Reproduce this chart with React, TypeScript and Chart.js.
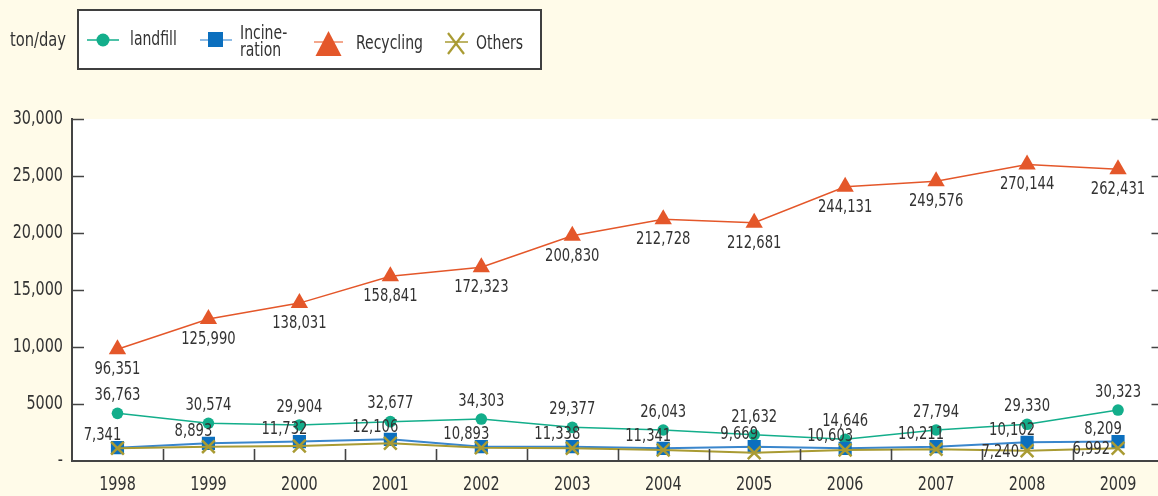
import React, { useEffect, useRef } from 'react';
import { Chart, registerables } from 'chart.js';

Chart.register(...registerables);

// ---- data ----
const years = ['1998', '1999', '2000', '2001', '2002', '2003', '2004', '2005', '2006', '2007', '2008', '2009'];

// plotted heights (on the 0–30,000 axis)
const landfill = [4180, 3310, 3160, 3450, 3680, 2950, 2720, 2300, 1900, 2720, 3220, 4470];
const incineration = [1170, 1550, 1700, 1900, 1260, 1260, 1110, 1260, 1110, 1260, 1640, 1700];
const recycling = [9800, 12450, 13850, 16200, 17000, 19750, 21200, 20900, 24050, 24550, 26000, 25600];
const others = [1110, 1260, 1320, 1550, 1170, 1110, 960, 730, 960, 1020, 900, 1110];

// printed value labels
const landfillLabels = ['36,763', '30,574', '29,904', '32,677', '34,303', '29,377', '26,043', '21,632', '14,646', '27,794', '29,330', '30,323'];
const incinerationLabels = ['7,341', '8,893', '11,732', '12,106', '10,893', '11,338', '11,341', '9,669', '10,603', '10,211', '10,102', '8,209'];
const recyclingLabels = ['96,351', '125,990', '138,031', '158,841', '172,323', '200,830', '212,728', '212,681', '244,131', '249,576', '270,144', '262,431'];
const othersLabels = ['', '', '', '', '', '', '', '', '', '', '7,240', '6,992'];

const yTickValues = [0, 5000, 10000, 15000, 20000, 25000, 30000];
const yTickLabels = ['-', '5000', '10,000', '15,000', '20,000', '25,000', '30,000'];

const unitLabel = 'ton/day';
const legendNames = ['landfill', 'Incine-', 'ration', 'Recycling', 'Others'];

// ---- styles ----
const FONT = "'DejaVu Sans Condensed', 'Liberation Sans Narrow', sans-serif";
const BG = '#FFFBE9';
const TEXT = '#333333';
const AXIS = '#444444';
const C_LAND = '#13AE8B';
const C_INC = '#0B6FBE';
const C_INC_LINE = '#3A86CC';
const C_REC = '#E4572A';
const C_OTH = '#A99B33';

function condensedText(ctx: any, s: string, x: number, y: number, size: number, align: string, squeeze: number) {
  ctx.save();
  ctx.font = `${size}px ${FONT}`;
  ctx.fillStyle = TEXT;
  ctx.textBaseline = 'middle';
  ctx.textAlign = align;
  ctx.translate(x, y);
  ctx.scale(squeeze, 1);
  ctx.fillText(s, 0, 0);
  ctx.restore();
}

const bgPlugin = {
  id: 'plotBg',
  beforeDraw(chart: any) {
    const { ctx, chartArea } = chart;
    ctx.save();
    ctx.fillStyle = '#ffffff';
    ctx.fillRect(chartArea.left, chartArea.top, chartArea.right - chartArea.left, chartArea.bottom - chartArea.top);
    ctx.restore();
  },
};

// inward tick marks + condensed axis labels, positioned by the chart's own scales
const axisDecorPlugin = {
  id: 'axisDecor',
  afterDraw(chart: any) {
    const { ctx, chartArea, scales } = chart;
    const len = 12;
    ctx.save();
    ctx.strokeStyle = AXIS;
    ctx.lineWidth = 1.6;
    const ys = scales.y;
    ys.ticks.forEach((t: any) => {
      if (t.value === 0) return;
      const y = Math.round(ys.getPixelForValue(t.value)) + 0.5;
      ctx.beginPath();
      ctx.moveTo(chartArea.left, y);
      ctx.lineTo(chartArea.left + len, y);
      ctx.moveTo(chartArea.right - len, y);
      ctx.lineTo(chartArea.right, y);
      ctx.stroke();
    });
    const xs = scales.x;
    for (let i = 0; i < xs.ticks.length - 1; i++) {
      const x = Math.round((xs.getPixelForTick(i) + xs.getPixelForTick(i + 1)) / 2) + 0.5;
      ctx.beginPath();
      ctx.moveTo(x, chartArea.bottom);
      ctx.lineTo(x, chartArea.bottom - len);
      ctx.stroke();
    }
    ctx.restore();

    ys.ticks.forEach((t: any) => {
      const i = yTickValues.indexOf(t.value);
      if (i < 0) return;
      condensedText(ctx, yTickLabels[i], chartArea.left - 9, ys.getPixelForValue(t.value), 20, 'right', 0.8);
    });
    xs.ticks.forEach((_t: any, i: number) => {
      condensedText(ctx, String(years[i]), xs.getPixelForTick(i), chartArea.bottom + 24, 20, 'center', 0.8);
    });
  },
};

const valueLabelPlugin = {
  id: 'valueLabels',
  afterDatasetsDraw(chart: any) {
    const { ctx } = chart;
    chart.data.datasets.forEach((ds: any, di: number) => {
      const meta = chart.getDatasetMeta(di);
      const lab = ds.valueLabels || [];
      meta.data.forEach((pt: any, i: number) => {
        const s = lab[i];
        if (!s) return;
        condensedText(ctx, s, pt.x + (ds.labelDx || 0), pt.y + (ds.labelDy || 0), 18.5, ds.labelAlign || 'center', 0.79);
      });
    });
  },
};

function LegendIcons() {
  return (
    <svg width={600} height={80} style={{ position: 'absolute', left: 0, top: 0 }}>
      {/* landfill */}
      <line x1={87} y1={40} x2={119} y2={40} stroke={C_LAND} strokeWidth={1.5} />
      <circle cx={103} cy={40} r={6.5} fill={C_LAND} />
      {/* incineration */}
      <line x1={200} y1={40} x2={232} y2={40} stroke="#6AA6DC" strokeWidth={1.5} />
      <rect x={208} y={32} width={15} height={15} fill={C_INC} />
      {/* recycling */}
      <line x1={314} y1={42} x2={343} y2={42} stroke="#F08A66" strokeWidth={1.5} />
      <polygon points="328.5,31 341.5,56 315.5,56" fill={C_REC} />
      {/* others */}
      <line x1={445} y1={42} x2={468} y2={42} stroke={C_OTH} strokeWidth={1.5} />
      <line x1={448} y1={33} x2={464} y2={54} stroke={C_OTH} strokeWidth={2.2} />
      <line x1={464} y1={33} x2={448} y2={54} stroke={C_OTH} strokeWidth={2.2} />
    </svg>
  );
}

export default function App() {
  const ref = useRef<HTMLCanvasElement | null>(null);

  useEffect(() => {
    const canvas = ref.current;
    if (!canvas) return;
    const chart = new Chart(canvas, {
      type: 'line',
      data: {
        labels: years,
        datasets: [
          {
            label: 'landfill',
            data: landfill,
            borderColor: C_LAND,
            backgroundColor: C_LAND,
            borderWidth: 1.5,
            pointStyle: 'circle',
            pointRadius: 5.8,
            pointBorderWidth: 0,
            pointBackgroundColor: C_LAND,
            order: 2,
            valueLabels: landfillLabels,
            labelDx: 0,
            labelDy: -18,
          } as any,
          {
            label: 'Incineration',
            data: incineration,
            borderColor: C_INC_LINE,
            backgroundColor: C_INC,
            borderWidth: 2,
            pointStyle: 'rect',
            pointRadius: 9.3,
            pointBorderWidth: 0,
            pointBackgroundColor: C_INC,
            order: 1,
            valueLabels: incinerationLabels,
            labelDx: -15,
            labelDy: -12,
          } as any,
          {
            label: 'Recycling',
            data: recycling,
            borderColor: C_REC,
            backgroundColor: C_REC,
            borderWidth: 1.5,
            pointStyle: 'triangle',
            pointRadius: 10,
            pointBorderWidth: 0,
            pointBackgroundColor: C_REC,
            order: 3,
            valueLabels: recyclingLabels,
            labelDx: 0,
            labelDy: 20,
          } as any,
          {
            label: 'Others',
            data: others,
            borderColor: C_OTH,
            backgroundColor: C_OTH,
            borderWidth: 2,
            pointStyle: 'crossRot',
            pointRadius: 9,
            pointBorderWidth: 2.5,
            pointBorderColor: C_OTH,
            order: 0,
            valueLabels: othersLabels,
            labelAlign: 'right',
            labelDx: -8,
            labelDy: 1,
          } as any,
        ],
      },
      options: {
        responsive: false,
        maintainAspectRatio: false,
        animation: false,
        layout: { padding: { top: 119, right: 9, left: 0, bottom: 0 } },
        plugins: { legend: { display: false }, tooltip: { enabled: false } },
        elements: { line: { tension: 0 } },
        scales: {
          x: {
            offset: true,
            grid: { display: false, drawTicks: false },
            border: { display: true, color: AXIS, width: 2 },
            ticks: { display: false, autoSkip: false },
            afterFit(s: any) {
              s.height = 35;
            },
          },
          y: {
            min: 0,
            max: 30000,
            grid: { display: false, drawTicks: false },
            border: { display: true, color: AXIS, width: 2 },
            afterBuildTicks(s: any) {
              s.ticks = yTickValues.map((v) => ({ value: v }));
            },
            ticks: { display: false },
            afterFit(s: any) {
              s.width = 72;
            },
          },
        },
      } as any,
      plugins: [bgPlugin, axisDecorPlugin, valueLabelPlugin],
    });
    return () => chart.destroy();
  }, []);

  const txt: React.CSSProperties = {
    position: 'absolute',
    fontFamily: FONT,
    color: TEXT,
    fontSize: 19,
    lineHeight: '19px',
    whiteSpace: 'nowrap',
    transform: 'scaleX(0.82)',
    transformOrigin: '0 0',
  };

  return (
    <div style={{ position: 'absolute', left: 0, top: 0, width: 1158, height: 496, overflow: 'hidden', background: BG }}>
      <canvas ref={ref} width={1175} height={496} style={{ position: 'absolute', left: 0, top: 0, display: 'block' }} />
      <div
        style={{
          position: 'absolute',
          left: 77,
          top: 9,
          width: 465,
          height: 61,
          boxSizing: 'border-box',
          border: '2px solid #3f3f3f',
          background: '#ffffff',
        }}
      />
      <LegendIcons />
      <span style={{ ...txt, left: 10, top: 30, transform: 'scaleX(0.86)' }}>{unitLabel}</span>
      <span style={{ ...txt, left: 130, top: 29 }}>{legendNames[0]}</span>
      <span style={{ ...txt, left: 240, top: 24, lineHeight: '17px' }}>
        {legendNames[1]}
        <br />
        {legendNames[2]}
      </span>
      <span style={{ ...txt, left: 356, top: 33 }}>{legendNames[3]}</span>
      <span style={{ ...txt, left: 476, top: 33 }}>{legendNames[4]}</span>
    </div>
  );
}
